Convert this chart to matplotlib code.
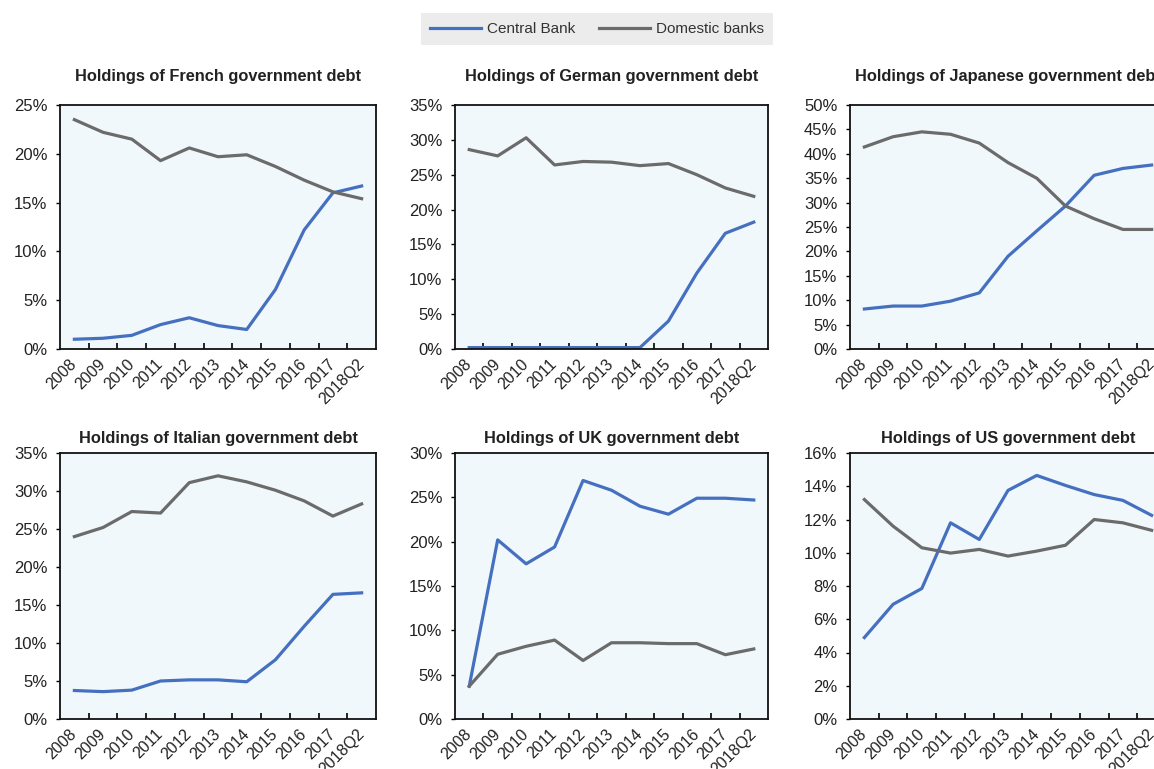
import numpy as np
import matplotlib
matplotlib.use("Agg")
import matplotlib.pyplot as plt
from matplotlib.ticker import FuncFormatter
from matplotlib.lines import Line2D

plt.rcParams['font.family'] = ['Liberation Sans', 'DejaVu Sans']

years = ['2008', '2009', '2010', '2011', '2012', '2013', '2014',
         '2015', '2016', '2017', '2018Q2']

# values in percent
france_cb = [1.0, 1.1, 1.4, 2.5, 3.2, 2.4, 2.0, 6.1, 12.2, 16.0, 16.7]
france_dom = [23.5, 22.2, 21.5, 19.3, 20.6, 19.7, 19.9, 18.7, 17.3, 16.1, 15.4]

germany_cb = [0.2, 0.2, 0.2, 0.2, 0.2, 0.2, 0.2, 4.0, 10.9, 16.6, 18.2]
germany_dom = [28.6, 27.7, 30.3, 26.4, 26.9, 26.8, 26.3, 26.6, 25.0, 23.1, 21.9]

japan_cb = [8.2, 8.8, 8.8, 9.8, 11.5, 19.0, 24.2, 29.3, 35.6, 37.0, 37.7]
japan_dom = [41.4, 43.5, 44.5, 44.0, 42.2, 38.2, 35.0, 29.3, 26.7, 24.5, 24.5]

italy_cb = [3.75, 3.6, 3.8, 5.0, 5.15, 5.15, 4.9, 7.8, 12.2, 16.4, 16.6]
italy_dom = [24.0, 25.2, 27.3, 27.1, 31.1, 32.0, 31.2, 30.1, 28.7, 26.7, 28.3]

uk_cb = [3.7, 20.2, 17.5, 19.4, 26.9, 25.8, 24.0, 23.1, 24.9, 24.9, 24.7]
uk_dom = [3.7, 7.3, 8.2, 8.9, 6.6, 8.6, 8.6, 8.5, 8.5, 7.25, 7.9]

us_cb = [4.9, 6.9, 7.85, 11.8, 10.8, 13.75, 14.65, 14.05, 13.5, 13.15, 12.25]
us_dom = [13.2, 11.6, 10.3, 9.98, 10.2, 9.8, 10.1, 10.45, 12.0, 11.8, 11.35]

panels = [
    ("Holdings of French government debt", france_cb, france_dom, 25, 5),
    ("Holdings of German government debt", germany_cb, germany_dom, 35, 5),
    ("Holdings of Japanese government debt", japan_cb, japan_dom, 50, 5),
    ("Holdings of Italian government debt", italy_cb, italy_dom, 35, 5),
    ("Holdings of UK government debt", uk_cb, uk_dom, 30, 5),
    ("Holdings of US government debt", us_cb, us_dom, 16, 2),
]

blue = '#4570c0'
grey = '#6b6b6b'
bg = '#f1f8fc'

W, H = 1154, 769
fig = plt.figure(figsize=(W / 100, H / 100), dpi=100)

# axes boxes in pixels: left, right, top, bottom
lefts = [60, 455, 850]
rights = [376, 768, 1166]
rows = [(105, 349, 0.115), (453, 719, 0.055)]

x = np.arange(len(years))
for i, (title, cb, dom, ymax, step) in enumerate(panels):
    r, c = divmod(i, 3)
    top, bot, tpad = rows[r]
    ax = fig.add_axes([lefts[c] / W, 1 - bot / H,
                       (rights[c] - lefts[c]) / W, (bot - top) / H])
    ax.set_facecolor(bg)
    ax.plot(x, cb, color=blue, lw=2.3, solid_joinstyle='round')
    ax.plot(x, dom, color=grey, lw=2.3, solid_joinstyle='round')
    ax.set_xlim(-0.5, len(years) - 0.5)
    ax.set_ylim(0, ymax)
    ax.set_yticks(np.arange(0, ymax + 0.01, step))
    ax.yaxis.set_major_formatter(FuncFormatter(lambda v, p: f"{v:.0f}%"))
    ax.set_xticks(x)
    ax.set_xticklabels(years, rotation=45, ha='right', va='center',
                       rotation_mode='anchor', fontsize=11.5, color='#222222')
    ax.set_xticks(x[:-1] + 0.5, minor=True)
    ax.tick_params(axis='x', which='major', length=0, pad=9)
    ax.tick_params(axis='x', which='minor', direction='in', length=4, width=1.2)
    ax.tick_params(axis='y', direction='out', length=3, width=1,
                   labelsize=12, labelcolor='#222222', pad=6)
    for s in ax.spines.values():
        s.set_linewidth(1.3)
        s.set_color('#111111')
    ax.text(0.5, 1 + tpad, title, transform=ax.transAxes, ha='center',
            va='center', fontsize=11.8, fontweight='bold', color='#222222')

# legend
handles = [Line2D([], [], color=blue, lw=2.3), Line2D([], [], color=grey, lw=2.3)]
leg = fig.legend(handles, ['Central Bank', 'Domestic banks'], loc='center',
                 bbox_to_anchor=(597 / W, 1 - 29 / H), ncol=2, frameon=True,
                 fontsize=11, handlelength=3.3, columnspacing=1.6,
                 handletextpad=0.4, borderpad=0.6, borderaxespad=0,
                 fancybox=False)
leg.get_frame().set_facecolor('#e8e8e8')
leg.get_frame().set_edgecolor('none')
for t in leg.get_texts():
    t.set_color('#333333')

fig.savefig('out.png', dpi=100)
